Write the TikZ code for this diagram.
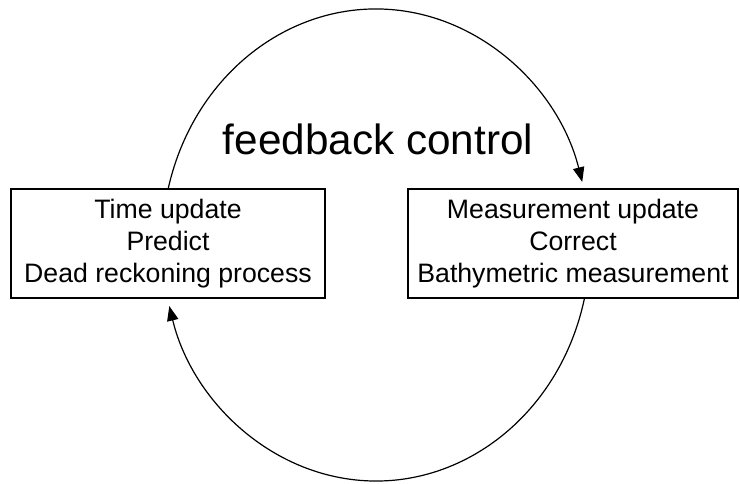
\documentclass[tikz,border=0pt]{standalone}
\usepackage{fontspec}
\setmainfont{Liberation Sans}
\usetikzlibrary{arrows.meta,calc}
\begin{document}
\begin{tikzpicture}[x=0.75pt,y=0.75pt,
  stagebox/.style={draw,line width=1.3pt,inner sep=0pt,align=center,
    font=\fontsize{20}{24}\selectfont,minimum height=81.75pt},
  flow/.style={line width=0.9pt,-{Triangle[length=11pt,width=8.5pt]}},
  title/.style={inner sep=0pt,font=\fontsize{31.7}{36}\selectfont}]
  \useasboundingbox (0,0) rectangle (740,484);
  % centre of the feedback loop
  \coordinate (c) at (376,239);
  % the two stages
  \node[stagebox,minimum width=235.5pt] (time) at (168,240.5)
    {Time update\\Predict\\Dead reckoning process};
  \node[stagebox,minimum width=247.5pt] (meas) at (573,240.5)
    {Measurement update\\Correct\\Bathymetric measurement};
  \node[title] (fb) at (378,345) {feedback control};
  % loop ends on the boxes
  \coordinate (time-out) at ($(c)+(166.4:214 and 236)$);
  \coordinate (meas-out) at ($(c)+(-13:214 and 236)$);
  % upper arc: prediction feeds the measurement update
  \draw[flow] (time-out) arc[start angle=166.4,end angle=15.5,x radius=214,y radius=236];
  % lower arc: correction feeds back to the time update
  \draw[flow] (meas-out) arc[start angle=-13,end angle=-165,x radius=214,y radius=236];
\end{tikzpicture}
\end{document}
